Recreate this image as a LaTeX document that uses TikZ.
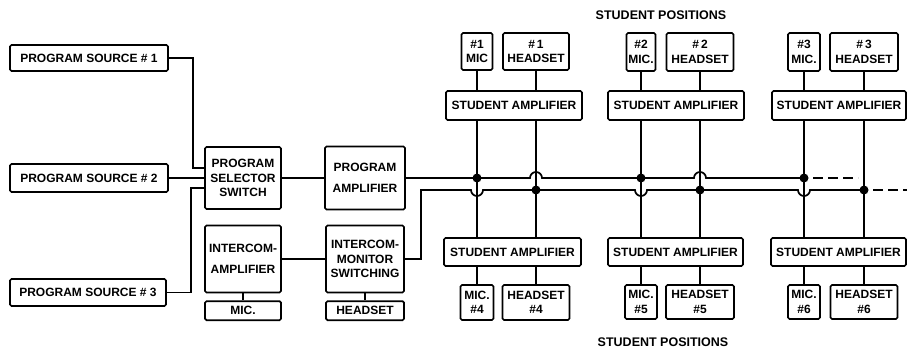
\documentclass[tikz,border=0pt]{standalone}
\usepackage{fontspec}
\setmainfont{Liberation Sans}
\usetikzlibrary{positioning,calc}

\begin{document}
\begin{tikzpicture}[
    x=1pt,y=-1pt,
    box/.style={draw,line width=1.7pt,rounded corners=1.5pt,align=center,inner sep=1pt,font=\bfseries\fontsize{12}{14.5}\selectfont},
    wire/.style={line width=1.7pt},
    junc/.style={circle,fill,inner sep=0pt,minimum size=9pt},
    lbl/.style={font=\bfseries\fontsize{12.5}{14}\selectfont}
]
\useasboundingbox (0,0) rectangle (907,348);

% program sources and console
\node[box,minimum width=158pt,minimum height=26pt] (src1) at (89,58) {PROGRAM SOURCE \#\ 1};
\node[box,minimum width=158pt,minimum height=28pt] (src2) at (89,178) {PROGRAM SOURCE \#\ 2};
\node[box,minimum width=156pt,minimum height=27pt] (src3) at (88,292.5) {PROGRAM SOURCE \#\ 3};
\node[box,minimum width=76pt,minimum height=62pt] (sel) at (243,178) {PROGRAM\\SELECTOR\\SWITCH};
\node[box,minimum width=80pt,minimum height=63pt] (pamp) at (365,178) {PROGRAM\\[6pt]AMPLIFIER};
\node[box,minimum width=76pt,minimum height=67pt] (icamp) at (243,259) {INTERCOM-\\[6pt]AMPLIFIER};
\node[box,minimum width=76pt,minimum height=19pt,below=7pt of icamp] (mic0) {MIC.};
\node[box,minimum width=78pt,minimum height=67pt] (icsw) at (365,259) {INTERCOM-\\MONITOR\\SWITCHING};
\node[box,minimum width=78pt,minimum height=19pt,below=7pt of icsw] (hs0) {HEADSET};

% student positions, upper row
\node[box,minimum width=136pt,minimum height=29pt] (tamp1) at (514,105.5) {STUDENT AMPLIFIER};
\node[box,minimum width=31pt,minimum height=37pt] (mic1) at (477,51.5) {\#1\\MIC};
\node[box,minimum width=66pt,minimum height=37pt] (hs1) at (536,51.5) {\#\,1\\HEADSET};
\node[box,minimum width=136pt,minimum height=29pt] (tamp2) at (676,105.5) {STUDENT AMPLIFIER};
\node[box,minimum width=29pt,minimum height=38pt] (mic2) at (641,52) {\#2\\MIC.};
\node[box,minimum width=67pt,minimum height=38pt] (hs2) at (700,52) {\#\,2\\HEADSET};
\node[box,minimum width=134pt,minimum height=29pt] (tamp3) at (839,105.5) {STUDENT AMPLIFIER};
\node[box,minimum width=32pt,minimum height=38pt] (mic3) at (804,52) {\#3\\MIC.};
\node[box,minimum width=68pt,minimum height=38pt] (hs3) at (864,52) {\#\,3\\HEADSET};

% student positions, lower row
\node[box,minimum width=137pt,minimum height=28pt] (samp4) at (512.5,252) {STUDENT AMPLIFIER};
\node[box,minimum width=33pt,minimum height=35pt] (mic4) at (477,302.5) {MIC.\\\#4};
\node[box,minimum width=67pt,minimum height=35pt] (hs4) at (536,302.5) {HEADSET\\\#4};
\node[box,minimum width=135pt,minimum height=28pt] (samp5) at (675.5,252) {STUDENT AMPLIFIER};
\node[box,minimum width=32pt,minimum height=34pt] (mic5) at (641,302) {MIC.\\\#5};
\node[box,minimum width=68pt,minimum height=34pt] (hs5) at (700,302) {HEADSET\\\#5};
\node[box,minimum width=135pt,minimum height=28pt] (samp6) at (838.5,252) {STUDENT AMPLIFIER};
\node[box,minimum width=32pt,minimum height=34pt] (mic6) at (804,302) {MIC.\\\#6};
\node[box,minimum width=67pt,minimum height=34pt] (hs6) at (864,302) {HEADSET\\\#6};

\node[lbl] (toppos) at (661,15) {STUDENT POSITIONS};
\node[lbl] (botpos) at (663,342) {STUDENT POSITIONS};

% bus lines
\coordinate (pbus) at (pamp.east);
\coordinate (ibus) at (421,190);
\coordinate (busend) at (907,190);

\draw[wire] (src1.east) -- ++(24,0) |- ($(sel.west)+(0,-10)$);
\draw[wire] (src2) -- (sel);
\draw[wire] (src3.east) -- ++(24,0) |- ($(sel.west)+(0,10)$);
\draw[wire] (sel) -- (pamp);
\draw[wire] (icamp) -- (icsw);
\draw[wire] (icamp) -- (mic0);
\draw[wire] (icsw) -- (hs0);

\draw[wire] (pbus) -- ($(hs1 |- pbus)+(-6,0)$) arc[start angle=180,end angle=0,radius=6pt]
    -- ($(hs2 |- pbus)+(-6,0)$) arc[start angle=180,end angle=0,radius=6pt] -- (mic3 |- pbus);
\draw[wire,dash pattern=on 10pt off 5pt] ($(mic3 |- pbus)+(9,0)$) -- ($(hs3 |- pbus)+(-6,0)$);
\draw[wire] (icsw.east) -| (ibus) -- ($(mic1 |- ibus)+(-6,0)$) arc[start angle=180,end angle=360,radius=6pt]
    -- ($(mic2 |- ibus)+(-6,0)$) arc[start angle=180,end angle=360,radius=6pt]
    -- ($(mic3 |- ibus)+(-6,0)$) arc[start angle=180,end angle=360,radius=6pt] -- (hs3 |- ibus);
\draw[wire,dash pattern=on 10pt off 5pt] ($(hs3 |- ibus)+(9,0)$) -- (busend);

% student leads
\foreach \m/\t/\s/\b in {mic1/tamp1/samp4/mic4,hs1/tamp1/samp4/hs4,mic2/tamp2/samp5/mic5,hs2/tamp2/samp5/hs5,mic3/tamp3/samp6/mic6,hs3/tamp3/samp6/hs6}{
  \draw[wire] (\m.south) -- (\m |- \t.north);
  \draw[wire] (\m |- \t.south) -- (\m |- \s.north);
  \draw[wire] (\m |- \s.south) -- (\b.north);
}

\node[junc] (j1) at (mic1 |- pbus) {};
\node[junc] (j2) at (hs1 |- ibus) {};
\node[junc] (j3) at (mic2 |- pbus) {};
\node[junc] (j4) at (hs2 |- ibus) {};
\node[junc] (j5) at (mic3 |- pbus) {};
\node[junc] (j6) at (hs3 |- ibus) {};
\end{tikzpicture}
\end{document}
